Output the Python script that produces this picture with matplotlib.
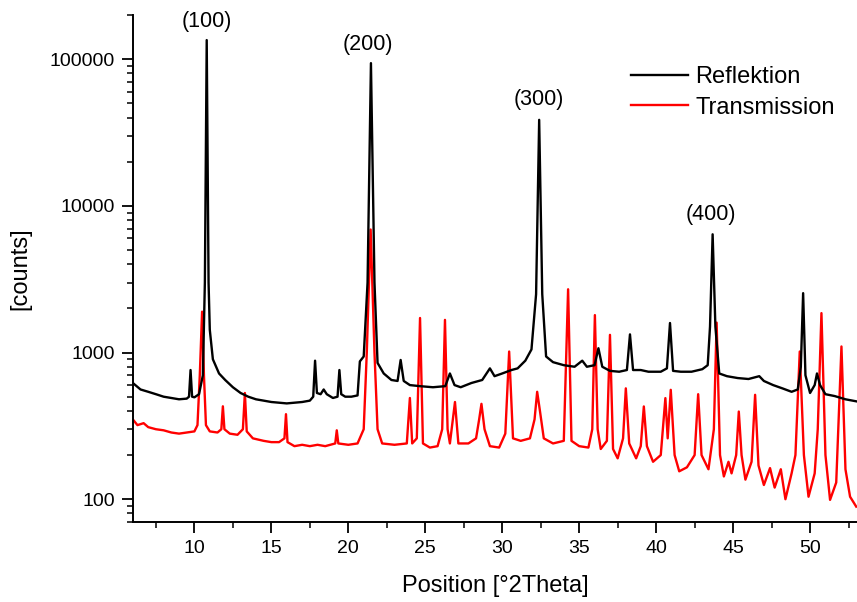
import matplotlib
matplotlib.use("Agg")
import matplotlib.pyplot as plt
from matplotlib.ticker import LogLocator, MultipleLocator, NullFormatter, FixedLocator

plt.rcParams['font.family'] = ['Liberation Sans', 'DejaVu Sans']

# Reflektion (black) trace
refl_x = [6.0, 6.5, 7.0, 7.5, 8.0, 8.5, 9.0, 9.5, 9.65, 9.75, 9.85, 10.0, 10.3, 10.55, 10.68,
          10.8, 10.92, 11.0, 11.2, 11.6, 12.0, 12.5, 13.0, 13.5, 14.0, 14.5, 15.0, 15.5, 16.0,
          16.5, 17.0, 17.5, 17.72, 17.84, 17.96, 18.2, 18.4, 18.6, 19.0, 19.3, 19.42, 19.54,
          19.8, 20.2, 20.6, 20.75, 21.0, 21.25, 21.47, 21.7, 21.9, 22.3, 22.8, 23.2, 23.4, 23.6,
          24.0, 24.65, 25.5, 26.3, 26.6, 26.9, 27.3, 28.0, 28.7, 29.2, 29.5, 30.0, 30.6, 31.0,
          31.5, 31.9, 32.2, 32.4, 32.6, 32.85, 33.3, 34.0, 34.7, 35.2, 35.5, 36.0, 36.25, 36.5,
          37.0, 37.6, 38.1, 38.3, 38.5, 39.0, 39.5, 40.3, 40.7, 40.9, 41.1, 41.6, 42.3, 43.0,
          43.35, 43.5, 43.67, 43.85, 44.1, 44.6, 45.3, 46.0, 46.7, 47.0, 47.6, 48.2, 48.8, 49.2,
          49.4, 49.55, 49.7, 50.0, 50.3, 50.45, 50.65, 51.0, 51.6, 52.3, 53.0]
refl_y = [620, 560, 540, 520, 500, 490, 480, 485, 500, 760, 500, 495, 520, 700, 3000,
          135000, 3000, 1430, 900, 720, 650, 580, 530, 500, 480, 470, 460, 455, 450,
          455, 460, 470, 500, 880, 530, 520, 560, 520, 490, 500, 760, 520,
          500, 500, 510, 870, 940, 3000, 94000, 3000, 850, 720, 650, 640, 890, 640,
          600, 590, 580, 590, 720, 600, 580, 620, 650, 780, 690, 720, 760, 780,
          880, 1050, 2500, 38600, 2500, 940, 860, 820, 800, 880, 800, 820, 1070, 800,
          750, 740, 760, 1330, 760, 760, 740, 740, 780, 1590, 750, 740, 740, 770,
          820, 1500, 6400, 1500, 720, 690, 670, 660, 690, 640, 600, 570, 540, 560,
          800, 2540, 700, 530, 600, 720, 600, 520, 505, 480, 465]

# Transmission (red) trace
trans_x = [6.0, 6.3, 6.7, 7.0, 7.5, 8.0, 8.5, 9.0, 9.5, 10.0, 10.2, 10.35, 10.5, 10.62, 10.75,
           11.0, 11.5, 11.75, 11.85, 11.95, 12.3, 12.8, 13.15, 13.28, 13.4, 13.8, 14.5, 15.0,
           15.5, 15.85, 15.95, 16.05, 16.5, 17.0, 17.5, 18.0, 18.5, 19.15, 19.25, 19.35, 20.0,
           20.6, 21.0, 21.2, 21.45, 21.7, 21.9, 22.2, 23.0, 23.8, 24.0, 24.15, 24.45, 24.66,
           24.85, 25.3, 25.8, 26.1, 26.28, 26.45, 26.6, 26.93, 27.15, 27.8, 28.3, 28.5, 28.65,
           28.85, 29.2, 29.8, 30.2, 30.45, 30.7, 31.2, 31.8, 32.1, 32.27, 32.45, 32.7, 33.3,
           34.0, 34.28, 34.5, 35.0, 35.6, 35.85, 36.02, 36.2, 36.4, 36.8, 37.0, 37.2, 37.5,
           37.85, 38.03, 38.25, 38.7, 39.0, 39.2, 39.4, 39.8, 40.3, 40.6, 40.75, 40.95, 41.2,
           41.5, 42.0, 42.5, 42.73, 42.95, 43.4, 43.75, 43.93, 44.15, 44.4, 44.7, 44.9, 45.2,
           45.37, 45.55, 45.8, 46.2, 46.43, 46.65, 47.0, 47.4, 47.7, 48.1, 48.4, 48.8, 49.05,
           49.33, 49.6, 49.9, 50.3, 50.5, 50.74, 51.0, 51.3, 51.7, 52.04, 52.3, 52.6, 53.0]
trans_y = [350, 320, 330, 310, 300, 295, 285, 280, 285, 290, 320, 700, 1900, 700, 320,
           290, 285, 300, 430, 300, 280, 275, 300, 530, 290, 260, 250, 245,
           245, 260, 380, 245, 230, 235, 230, 235, 230, 240, 295, 240, 235,
           240, 300, 1000, 6900, 1000, 300, 240, 235, 240, 490, 240, 260, 1720,
           240, 225, 230, 300, 1670, 300, 240, 460, 240, 240, 260, 350, 447,
           300, 230, 225, 280, 1016, 260, 250, 260, 350, 540, 400, 260, 240,
           250, 2700, 250, 230, 225, 300, 1800, 300, 220, 250, 1320, 220, 190,
           260, 570, 240, 190, 230, 429, 230, 180, 200, 489, 260, 557, 200,
           155, 165, 200, 520, 200, 160, 300, 1600, 200, 143, 180, 150, 200,
           396, 200, 136, 180, 515, 170, 125, 163, 120, 160, 100, 150, 200,
           1016, 200, 104, 150, 300, 1857, 200, 99, 130, 1100, 160, 104, 89]

peak_labels = ["(100)", "(200)", "(300)", "(400)"]
peak_label_x = [10.8, 21.3, 32.35, 43.55]
peak_label_y = [182000, 126000, 53000, 8700]

fig = plt.figure(figsize=(8.57, 6.02), dpi=100)
ax = fig.add_axes([0.155, 0.133, 0.845, 0.842])

ax.plot(refl_x, refl_y, color='black', lw=1.7, label='Reflektion', zorder=3)
ax.plot(trans_x, trans_y, color='#ff0000', lw=1.7, label='Transmission', zorder=2)

ax.set_yscale('log')
ax.set_xlim(6.0, 53.05)
ax.set_ylim(70, 200000)

ax.spines['top'].set_visible(False)
ax.spines['right'].set_visible(False)
ax.spines['left'].set_linewidth(1.4)
ax.spines['bottom'].set_linewidth(1.4)

ax.xaxis.set_major_locator(MultipleLocator(5))
ax.xaxis.set_minor_locator(MultipleLocator(2.5))
ax.yaxis.set_major_locator(FixedLocator([100, 1000, 10000, 100000]))
ax.yaxis.set_minor_locator(LogLocator(base=10, subs=range(2, 10)))
ax.yaxis.set_minor_formatter(NullFormatter())
ax.set_yticklabels(['100', '1000', '10000', '100000'])

ax.tick_params(axis='both', which='major', length=8, width=1.3, direction='out',
               labelsize=14, pad=5)
ax.tick_params(axis='both', which='minor', length=4.5, width=1.1, direction='out')

ax.set_xlabel('Position [°2Theta]', fontsize=17, labelpad=13)
ax.set_ylabel('[counts]', fontsize=17, labelpad=13)

for t, xx, yy in zip(peak_labels, peak_label_x, peak_label_y):
    ax.text(xx, yy, t, ha='center', va='center', fontsize=15.5)

ax.legend(loc='upper left', bbox_to_anchor=(0.672, 0.922), frameon=False, fontsize=17,
          handlelength=2.4, handletextpad=0.3, labelspacing=0.35, borderpad=0)

fig.savefig('out.png', dpi=100)
